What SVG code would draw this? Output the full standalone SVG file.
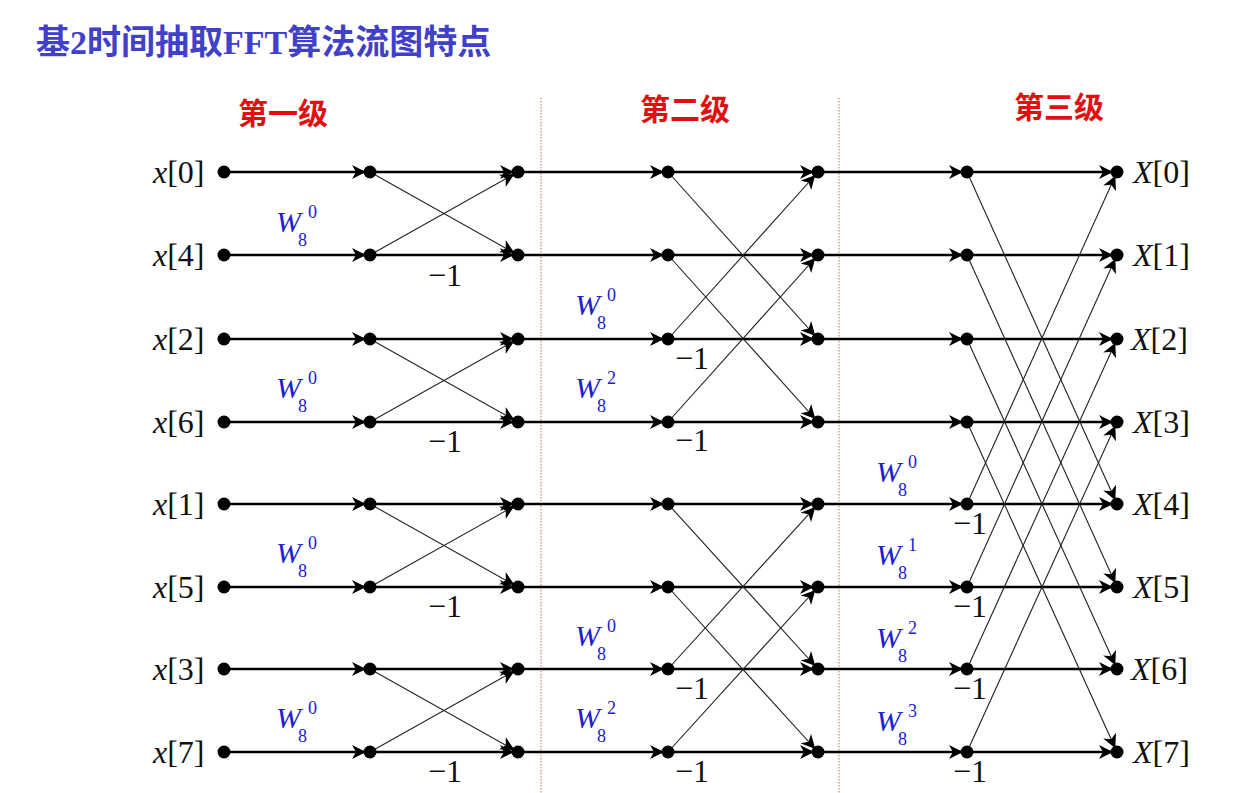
<svg xmlns="http://www.w3.org/2000/svg" width="1249" height="793" viewBox="0 0 1249 793">
<defs>
<marker id="a" markerUnits="userSpaceOnUse" markerWidth="18" markerHeight="14" viewBox="0 0 18 14" refX="18" refY="7" orient="auto"><path d="M0,0 L14,7 L0,14 L4,7 z" fill="#000"/></marker>
</defs>
<style>
.h{stroke:#000;stroke-width:2.5;marker-end:url(#a)}
.d{stroke:#222;stroke-width:1.1;marker-end:url(#a)}
.sep{stroke:#c0705a;stroke-width:1;stroke-dasharray:1.5 1.5}
.lab{font-family:"Liberation Serif","Times New Roman",serif;font-size:32px;fill:#111}
.w{font-family:"Liberation Serif","Times New Roman",serif;font-size:30px;fill:#2020d0;font-style:italic}
.ws{font-size:18px;font-style:normal}
.m{font-family:"Liberation Serif","Times New Roman",serif;font-size:32px;fill:#111}
.st{font-family:"Liberation Serif","Noto Sans CJK SC",serif;font-size:30px;font-weight:bold;fill:#e01010}
</style>
<rect width="1249" height="793" fill="#fff"/>
<text x="36" y="54" font-family="Liberation Serif,'Noto Sans CJK SC',serif" font-size="34" font-weight="bold" fill="#4040c8">基2时间抽取FFT算法流图特点</text>
<text class="st" x="238" y="124">第一级</text>
<text class="st" x="640" y="120">第二级</text>
<text class="st" x="1014" y="118">第三级</text>
<line class="sep" x1="541" y1="98" x2="541" y2="793"/>
<line class="sep" x1="839" y1="98" x2="839" y2="793"/>
<g id="connectors">
<path class="h" d="M224,172H370"/><path class="h" d="M370,172H518"/><path class="h" d="M518,172H668"/><path class="h" d="M668,172H818"/><path class="h" d="M818,172H967"/><path class="h" d="M967,172H1117"/>
<path class="h" d="M224,255H370"/><path class="h" d="M370,255H518"/><path class="h" d="M518,255H668"/><path class="h" d="M668,255H818"/><path class="h" d="M818,255H967"/><path class="h" d="M967,255H1117"/>
<path class="h" d="M224,339H370"/><path class="h" d="M370,339H518"/><path class="h" d="M518,339H668"/><path class="h" d="M668,339H818"/><path class="h" d="M818,339H967"/><path class="h" d="M967,339H1117"/>
<path class="h" d="M224,422H370"/><path class="h" d="M370,422H518"/><path class="h" d="M518,422H668"/><path class="h" d="M668,422H818"/><path class="h" d="M818,422H967"/><path class="h" d="M967,422H1117"/>
<path class="h" d="M224,504H370"/><path class="h" d="M370,504H518"/><path class="h" d="M518,504H668"/><path class="h" d="M668,504H818"/><path class="h" d="M818,504H967"/><path class="h" d="M967,504H1117"/>
<path class="h" d="M224,587H370"/><path class="h" d="M370,587H518"/><path class="h" d="M518,587H668"/><path class="h" d="M668,587H818"/><path class="h" d="M818,587H967"/><path class="h" d="M967,587H1117"/>
<path class="h" d="M224,669H370"/><path class="h" d="M370,669H518"/><path class="h" d="M518,669H668"/><path class="h" d="M668,669H818"/><path class="h" d="M818,669H967"/><path class="h" d="M967,669H1117"/>
<path class="h" d="M224,752H370"/><path class="h" d="M370,752H518"/><path class="h" d="M518,752H668"/><path class="h" d="M668,752H818"/><path class="h" d="M818,752H967"/><path class="h" d="M967,752H1117"/>
<path class="d" d="M370,172L518,255"/><path class="d" d="M370,255L518,172"/>
<path class="d" d="M370,339L518,422"/><path class="d" d="M370,422L518,339"/>
<path class="d" d="M370,504L518,587"/><path class="d" d="M370,587L518,504"/>
<path class="d" d="M370,669L518,752"/><path class="d" d="M370,752L518,669"/>
<path class="d" d="M668,172L818,339"/><path class="d" d="M668,339L818,172"/>
<path class="d" d="M668,255L818,422"/><path class="d" d="M668,422L818,255"/>
<path class="d" d="M668,504L818,669"/><path class="d" d="M668,669L818,504"/>
<path class="d" d="M668,587L818,752"/><path class="d" d="M668,752L818,587"/>
<path class="d" d="M967,172L1117,504"/><path class="d" d="M967,504L1117,172"/>
<path class="d" d="M967,255L1117,587"/><path class="d" d="M967,587L1117,255"/>
<path class="d" d="M967,339L1117,669"/><path class="d" d="M967,669L1117,339"/>
<path class="d" d="M967,422L1117,752"/><path class="d" d="M967,752L1117,422"/>
</g>
<g id="nodes" fill="#000">
<g id="c0"><circle cx="224" cy="172" r="6.5"/><circle cx="224" cy="255" r="6.5"/><circle cx="224" cy="339" r="6.5"/><circle cx="224" cy="422" r="6.5"/><circle cx="224" cy="504" r="6.5"/><circle cx="224" cy="587" r="6.5"/><circle cx="224" cy="669" r="6.5"/><circle cx="224" cy="752" r="6.5"/></g>
<g id="c1"><circle cx="370" cy="172" r="6.5"/><circle cx="370" cy="255" r="6.5"/><circle cx="370" cy="339" r="6.5"/><circle cx="370" cy="422" r="6.5"/><circle cx="370" cy="504" r="6.5"/><circle cx="370" cy="587" r="6.5"/><circle cx="370" cy="669" r="6.5"/><circle cx="370" cy="752" r="6.5"/></g>
<g id="c2"><circle cx="518" cy="172" r="6.5"/><circle cx="518" cy="255" r="6.5"/><circle cx="518" cy="339" r="6.5"/><circle cx="518" cy="422" r="6.5"/><circle cx="518" cy="504" r="6.5"/><circle cx="518" cy="587" r="6.5"/><circle cx="518" cy="669" r="6.5"/><circle cx="518" cy="752" r="6.5"/></g>
<g id="c3"><circle cx="668" cy="172" r="6.5"/><circle cx="668" cy="255" r="6.5"/><circle cx="668" cy="339" r="6.5"/><circle cx="668" cy="422" r="6.5"/><circle cx="668" cy="504" r="6.5"/><circle cx="668" cy="587" r="6.5"/><circle cx="668" cy="669" r="6.5"/><circle cx="668" cy="752" r="6.5"/></g>
<g id="c4"><circle cx="818" cy="172" r="6.5"/><circle cx="818" cy="255" r="6.5"/><circle cx="818" cy="339" r="6.5"/><circle cx="818" cy="422" r="6.5"/><circle cx="818" cy="504" r="6.5"/><circle cx="818" cy="587" r="6.5"/><circle cx="818" cy="669" r="6.5"/><circle cx="818" cy="752" r="6.5"/></g>
<g id="c5"><circle cx="967" cy="172" r="6.5"/><circle cx="967" cy="255" r="6.5"/><circle cx="967" cy="339" r="6.5"/><circle cx="967" cy="422" r="6.5"/><circle cx="967" cy="504" r="6.5"/><circle cx="967" cy="587" r="6.5"/><circle cx="967" cy="669" r="6.5"/><circle cx="967" cy="752" r="6.5"/></g>
<g id="c6"><circle cx="1117" cy="172" r="6.5"/><circle cx="1117" cy="255" r="6.5"/><circle cx="1117" cy="339" r="6.5"/><circle cx="1117" cy="422" r="6.5"/><circle cx="1117" cy="504" r="6.5"/><circle cx="1117" cy="587" r="6.5"/><circle cx="1117" cy="669" r="6.5"/><circle cx="1117" cy="752" r="6.5"/></g>
</g>
<g id="inputs" class="lab">
<text x="153" y="183"><tspan font-style="italic">x</tspan>[0]</text>
<text x="153" y="266"><tspan font-style="italic">x</tspan>[4]</text>
<text x="153" y="350"><tspan font-style="italic">x</tspan>[2]</text>
<text x="153" y="433"><tspan font-style="italic">x</tspan>[6]</text>
<text x="153" y="515"><tspan font-style="italic">x</tspan>[1]</text>
<text x="153" y="598"><tspan font-style="italic">x</tspan>[5]</text>
<text x="153" y="680"><tspan font-style="italic">x</tspan>[3]</text>
<text x="153" y="763"><tspan font-style="italic">x</tspan>[7]</text>
</g>
<g id="outputs" class="lab">
<text x="1133" y="183"><tspan font-style="italic">X</tspan>[0]</text>
<text x="1133" y="266"><tspan font-style="italic">X</tspan>[1]</text>
<text x="1131" y="350"><tspan font-style="italic">X</tspan>[2]</text>
<text x="1133" y="433"><tspan font-style="italic">X</tspan>[3]</text>
<text x="1133" y="515"><tspan font-style="italic">X</tspan>[4]</text>
<text x="1133" y="598"><tspan font-style="italic">X</tspan>[5]</text>
<text x="1131" y="680"><tspan font-style="italic">X</tspan>[6]</text>
<text x="1133" y="763"><tspan font-style="italic">X</tspan>[7]</text>
</g>
<g id="weights" class="w">
<text x="276" y="232">W<tspan class="ws" dx="-3" dy="14">8</tspan><tspan class="ws" dx="1" dy="-28">0</tspan></text>
<text x="276" y="398">W<tspan class="ws" dx="-3" dy="14">8</tspan><tspan class="ws" dx="1" dy="-28">0</tspan></text>
<text x="276" y="563">W<tspan class="ws" dx="-3" dy="14">8</tspan><tspan class="ws" dx="1" dy="-28">0</tspan></text>
<text x="276" y="728">W<tspan class="ws" dx="-3" dy="14">8</tspan><tspan class="ws" dx="1" dy="-28">0</tspan></text>
<text x="575" y="315">W<tspan class="ws" dx="-3" dy="14">8</tspan><tspan class="ws" dx="1" dy="-28">0</tspan></text>
<text x="575" y="398">W<tspan class="ws" dx="-3" dy="14">8</tspan><tspan class="ws" dx="1" dy="-28">2</tspan></text>
<text x="575" y="646">W<tspan class="ws" dx="-3" dy="14">8</tspan><tspan class="ws" dx="1" dy="-28">0</tspan></text>
<text x="575" y="728">W<tspan class="ws" dx="-3" dy="14">8</tspan><tspan class="ws" dx="1" dy="-28">2</tspan></text>
<text x="876" y="482">W<tspan class="ws" dx="-3" dy="14">8</tspan><tspan class="ws" dx="1" dy="-28">0</tspan></text>
<text x="876" y="565">W<tspan class="ws" dx="-3" dy="14">8</tspan><tspan class="ws" dx="1" dy="-28">1</tspan></text>
<text x="876" y="648">W<tspan class="ws" dx="-3" dy="14">8</tspan><tspan class="ws" dx="1" dy="-28">2</tspan></text>
<text x="876" y="731">W<tspan class="ws" dx="-3" dy="14">8</tspan><tspan class="ws" dx="1" dy="-28">3</tspan></text>
</g>
<g id="minus" class="m">
<text x="428" y="286">−1</text><text x="428" y="452">−1</text><text x="428" y="617">−1</text><text x="428" y="782">−1</text>
<text x="675" y="369">−1</text><text x="675" y="451">−1</text><text x="675" y="699">−1</text><text x="675" y="782">−1</text>
<text x="953" y="534">−1</text><text x="953" y="617">−1</text><text x="953" y="699">−1</text><text x="953" y="782">−1</text>
</g>
</svg>
